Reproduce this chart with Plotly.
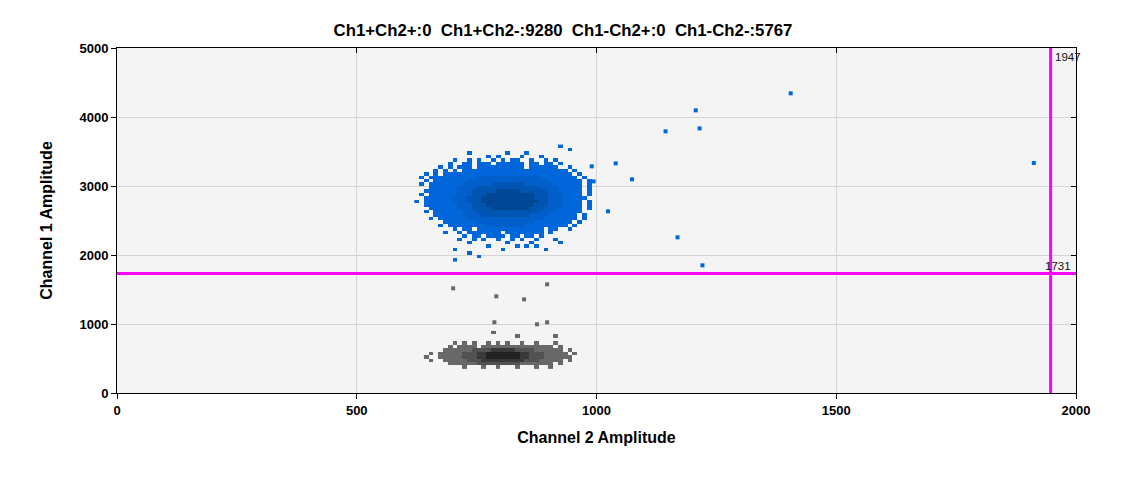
import numpy as np
import plotly.graph_objects as go

# ---------------- data ----------------
title_text = "Ch1+Ch2+:0  Ch1+Ch2-:9280  Ch1-Ch2+:0  Ch1-Ch2-:5767"
x_title = "Channel 2 Amplitude"
y_title = "Channel 1 Amplitude"
x_ticks = [0, 500, 1000, 1500, 2000]
y_ticks = [0, 1000, 2000, 3000, 4000, 5000]
ch2_threshold = 1947
ch1_threshold = 1731

# Blue cluster (Ch1+Ch2-) density grid: column i -> x = 620 + 10*i, row j -> y = 3600 - 50*j (top edge)
# tokens: "a-b" (level 1) or "a-b:L" (level L overlaid)
blue_x0, blue_dx, blue_ncols = 620, 10, 38
blue_ytop, blue_dy = 3600, 50
blue_rows = [
    "30",
    "32",
    "11 19 23",
    "15 17 22 26",
    "8 11 13 16 18 20 21 24 27 29",
    "7 10-11 13-15 17-22 24-25 27-28 30",
    "5 7 9-11 13-22 24-29 32",
    "4 6 8 10-31 33",
    "2 4 6-32 34",
    "1 3-33 35 13-25:2",
    "2 4-34 36 11-27:2",
    "1 3-34 36 10-28:2 16-22:3",
    "3-34 36 9-29:2 13-25:3",
    "2-34 36 9-29:2 12-27:3 17-21:4",
    "1 3-34 36 9-30:2 12-27:3 15-24:4",
    "2-34 35 8-30:2 11-27:3 14-24:4",
    "0 2-34 36 8-30:2 11-27:3 14-25:4",
    "2-34 36 9-30:2 12-27:3 15-24:4",
    "3-34 36 9-29:2 12-26:3 16-23:4",
    "2 4-34 10-28:2 13-25:3",
    "4-33 35 10-27:2 14-23:3",
    "3 5-33 35 11-26:2",
    "6-32 34 13-24:2",
    "5 7-31 33 15-22:2",
    "8 10-11 13-26 28-29 32",
    "6 9 11-17 19-26 28",
    "10 12-13 15-18 20-21 23-24 26",
    "9 12 14 17 20 22 25 29",
    "11 19 24 30",
    "15 21 23 25",
    "8 18 27",
    "11",
    "13",
    "8",
]

# Gray cluster (Ch1-Ch2-) density grid: column i -> x = 640 + 10*i, row j -> y = 900 - 50*j (top edge)
gray_x0, gray_dx, gray_ncols = 640, 10, 33
gray_ytop, gray_dy = 900, 50
gray_rows = [
    "14",
    "19 27",
    "",
    "6 8 10 13 15 17 20 23 27",
    "5 7-10 12-26 28",
    "4-28 30 10-22:2 14-18:3",
    "1 3-29 31 8-24:2 11-21:3 13-19:4",
    "0 3-29 30 8-24:2 11-21:3 13-19:4",
    "1 4-28 30 9-23:2 12-20:3",
    "5-26 28 11-19:2",
    "8 12 15 19 23 26",
]

# isolated droplets
blue_out_x = [1405, 1207, 1215, 1144, 1040, 1074, 990, 994, 1024, 1169, 1221, 1912]
blue_out_y = [4343, 4096, 3835, 3792, 3328, 3097, 3285, 3067, 2633, 2256, 1850, 3333]
gray_out_x = [701, 897, 791, 849, 787, 876, 897]
gray_out_y = [1517, 1575, 1401, 1357, 1025, 996, 1025]

blue_levels = ["#0066d9", "#005fca", "#0055b3", "#004896"]
gray_levels = ["#686868", "#515151", "#393939", "#222222"]


def build_grid(rows, ncols):
    z = np.full((len(rows), ncols), np.nan)
    for j, row in enumerate(rows):
        for tok in row.split():
            if ":" in tok:
                rng, lev = tok.split(":")
                lev = int(lev)
            else:
                rng, lev = tok, 1
            if "-" in rng:
                a, b = map(int, rng.split("-"))
            else:
                a = b = int(rng)
            z[j, a:b + 1] = lev
    return z


def discrete_scale(cols):
    n = len(cols)
    cs = []
    for k, c in enumerate(cols):
        cs.append([k / n, c])
        cs.append([(k + 1) / n, c])
    return cs


def heat(rows, x0, dx, ncols, ytop, dy, cols):
    z = build_grid(rows, ncols)
    xs = [x0 + dx * (i + 0.5) for i in range(ncols)]
    ys = [ytop - dy * (j + 0.5) for j in range(len(rows))]
    return go.Heatmap(
        x=xs, y=ys, z=z, zmin=0.5, zmax=len(cols) + 0.5,
        colorscale=discrete_scale(cols), showscale=False,
        hoverinfo="skip", zsmooth=False,
    )


fig = go.Figure()
fig.add_trace(heat(gray_rows, gray_x0, gray_dx, gray_ncols, gray_ytop, gray_dy, gray_levels))
fig.add_trace(heat(blue_rows, blue_x0, blue_dx, blue_ncols, blue_ytop, blue_dy, blue_levels))
fig.add_trace(go.Scatter(x=gray_out_x, y=gray_out_y, mode="markers",
                         marker=dict(symbol="square", size=4, color=gray_levels[0], line=dict(width=0)),
                         hoverinfo="skip"))
fig.add_trace(go.Scatter(x=blue_out_x, y=blue_out_y, mode="markers",
                         marker=dict(symbol="square", size=4, color=blue_levels[0], line=dict(width=0)),
                         hoverinfo="skip"))

# threshold lines
fig.add_shape(type="line", x0=ch2_threshold, x1=ch2_threshold, y0=y_ticks[0], y1=y_ticks[-1],
              line=dict(color="#ff00ff", width=3), layer="above")
fig.add_shape(type="line", x0=x_ticks[0], x1=x_ticks[-1], y0=ch1_threshold, y1=ch1_threshold,
              line=dict(color="#ff00ff", width=3), layer="above")
fig.add_annotation(x=ch2_threshold, y=y_ticks[-1], text=str(ch2_threshold), showarrow=False,
                   xanchor="left", yanchor="top", xshift=2, yshift=-1,
                   font=dict(family="Liberation Sans, Arial", size=11.5, color="#111111"))
fig.add_annotation(x=x_ticks[-1], y=ch1_threshold, text=str(ch1_threshold), showarrow=False,
                   xanchor="right", yanchor="bottom", xshift=-3, yshift=0,
                   font=dict(family="Liberation Sans, Arial", size=11.5, color="#111111"))

axis_font = dict(family="Liberation Sans, Arial", size=13, color="black", weight="bold")
title_font = dict(family="Liberation Sans, Arial", size=16, color="black", weight="bold")
main_title_font = dict(family="Liberation Sans, Arial", size=16.8, color="black", weight="bold")

# the page body has an 8 px margin, so the figure is 8 px smaller and margins are offset
W, H = 1117, 470
fig.update_layout(
    width=W, height=H,
    margin=dict(l=109, r=49, t=40, b=85),
    paper_bgcolor="white", plot_bgcolor="#f4f4f4",
    showlegend=False,
    title=dict(text=title_text, font=main_title_font, x=(563 - 8) / W, xref="container", xanchor="center",
               y=1 - 22 / H, yref="container", yanchor="middle"),
    xaxis=dict(range=[x_ticks[0], x_ticks[-1]], tickvals=x_ticks, showgrid=True, gridcolor="#d4d4d4",
               zeroline=False, showline=True, linecolor="black", linewidth=1,
               ticks="outside", ticklen=5, tickcolor="black", tickfont=axis_font,
               title=dict(text=x_title, font=title_font, standoff=15)),
    yaxis=dict(range=[y_ticks[0], y_ticks[-1]], tickvals=y_ticks, showgrid=True, gridcolor="#d4d4d4",
               zeroline=False, showline=True, linecolor="black", linewidth=1,
               ticks="outside", ticklen=5, tickcolor="black", tickfont=axis_font,
               title=dict(text=y_title, font=title_font, standoff=22)),
    xaxis2=dict(overlaying="x", matches="x", side="top", range=[x_ticks[0], x_ticks[-1]], tickvals=x_ticks,
                showgrid=False, zeroline=False, showline=True, linecolor="black", linewidth=1,
                ticks="inside", ticklen=5, tickcolor="black", showticklabels=False),
    yaxis2=dict(overlaying="y", matches="y", side="right", range=[y_ticks[0], y_ticks[-1]], tickvals=y_ticks,
                showgrid=False, zeroline=False, showline=True, linecolor="black", linewidth=1,
                ticks="inside", ticklen=5, tickcolor="black", showticklabels=False),
)
# invisible trace so the mirrored axes are drawn
fig.add_trace(go.Scatter(x=[None], y=[None], xaxis="x2", yaxis="y2", showlegend=False, hoverinfo="skip"))

fig.write_html("out.html")
